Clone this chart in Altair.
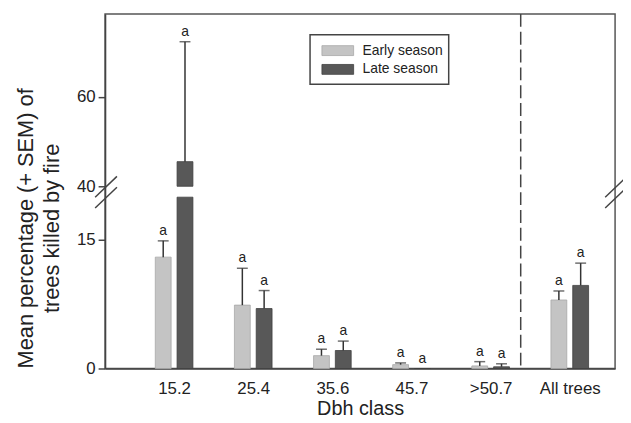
import json
import altair as alt
import pandas as pd

# ---- data ----
categories = ["15.2", "25.4", "35.6", "45.7", ">50.7", "All trees"]
early_mean = [13.0, 7.4, 1.5, 0.45, 0.3, 8.0]
early_sem = [1.9, 4.3, 0.75, 0.2, 0.5, 1.05]
late_mean = [45.5, 7.0, 2.1, 0.0, 0.2, 9.7]
late_sem = [26.8, 2.1, 1.1, 0.0, 0.35, 2.6]
sig_early = ["a", "a", "a", "a", "a", "a"]
sig_late = ["a", "a", "a", "a", "a", "a"]
seasons = ["Early season", "Late season"]

BREAK_LO, BREAK_HI, YMAX = 20, 40, 78.5
FONT = "Liberation Sans, Arial, Helvetica, sans-serif"
EARLY_FILL, LATE_FILL = "#c4c4c4", "#585858"
EARLY_STROKE, LATE_STROKE = "#a8a8a8", "#404040"
W, H = 515, 358


def segments(means, season):
    rows = []
    for i, m in enumerate(means):
        if m > BREAK_LO:
            rows.append(dict(idx=i, lo=0, hi=BREAK_LO, season=season))
            rows.append(dict(idx=i, lo=BREAK_HI, hi=m, season=season))
        else:
            rows.append(dict(idx=i, lo=0, hi=m, season=season))
    return pd.DataFrame(rows)


def summary(means, sems, sig):
    return pd.DataFrame(dict(idx=list(range(len(means))), mean=means, sem=sems,
                             top=[m + s for m, s in zip(means, sems)], sig=sig))


xscale = alt.Scale(domain=[-0.81, 5.51], nice=False, zero=False)
yscale = alt.Scale(domain=[0, BREAK_LO, BREAK_HI, YMAX], range=[H, 185, 174, 0],
                   nice=False, zero=False)
colscale = alt.Scale(domain=seasons, range=[EARLY_FILL, LATE_FILL])

x_enc = alt.X("idx:Q", scale=xscale, axis=alt.Axis(
    values=list(range(len(categories))),
    labelExpr=json.dumps(categories) + "[datum.value]",
    title="Dbh class", ticks=False, labelPadding=12, titlePadding=2,
    labelFontSize=17, titleFontSize=20, grid=False))
y_enc = alt.Y("lo:Q", scale=yscale, axis=alt.Axis(
    values=[0, 15, 40, 60], title=["Mean percentage (+ SEM) of", "trees killed by fire"],
    tickSize=7, labelPadding=3, labelFontSize=17, titleFontSize=22,
    titleLineHeight=26, titleX=-68, titleY=216, grid=False))

layers = []
for season, means, sems, sig, off, stroke in [
        (seasons[0], early_mean, early_sem, sig_early, -11, EARLY_STROKE),
        (seasons[1], late_mean, late_sem, sig_late, 11, LATE_STROKE)]:
    seg = segments(means, season)
    summ = summary(means, sems, sig)
    bars = alt.Chart(seg).mark_bar(width=16, xOffset=off, stroke=stroke, strokeWidth=0.8).encode(
        x=x_enc, y=y_enc, y2="hi:Q",
        color=alt.Color("season:N", scale=colscale, legend=None))
    errd = summ[summ["sem"] > 0]
    err = alt.Chart(errd).mark_rule(xOffset=off, color="#333", strokeWidth=1.5).encode(
        x="idx:Q", y=alt.Y("mean:Q"), y2="top:Q")
    cap = alt.Chart(errd).mark_tick(orient="horizontal", xOffset=off, size=11,
                                    thickness=1.5, color="#333").encode(
        x="idx:Q", y="top:Q")
    txt = alt.Chart(summ).mark_text(xOffset=off, dy=-3, baseline="bottom", fontSize=14,
                                    font=FONT, color="#222").encode(
        x="idx:Q", y="top:Q", text="sig:N")
    layers += [bars, err, cap, txt]

one = pd.DataFrame({"k": [0]})
divider = alt.Chart(one).mark_rule(color="#444", strokeWidth=1.5, strokeDash=[13, 5]).encode(
    x=alt.datum(4.38))
layers.append(divider)

# axis-break slashes (decoration)
for (x1, x2, y1, y2) in [(-10, 12, 185, 164), (-10, 12, 196, 175),
                          (505, 527, 185, 164), (505, 527, 196, 175)]:
    layers.append(alt.Chart(one).mark_rule(color="#444", strokeWidth=1.5).encode(
        x=alt.value(x1), x2=alt.value(x2), y=alt.value(y1), y2=alt.value(y2)))

# legend box (decoration)
layers.append(alt.Chart(one).mark_rect(fill="white", stroke="#444", strokeWidth=1.5).encode(
    x=alt.value(207), x2=alt.value(347), y=alt.value(21), y2=alt.value(71)))
for i, (name, fill, stroke) in enumerate([(seasons[0], EARLY_FILL, EARLY_STROKE),
                                          (seasons[1], LATE_FILL, LATE_STROKE)]):
    y0 = 32 + 19 * i
    layers.append(alt.Chart(one).mark_rect(fill=fill, stroke=stroke, strokeWidth=0.8).encode(
        x=alt.value(219), x2=alt.value(251), y=alt.value(y0), y2=alt.value(y0 + 10)))
    layers.append(alt.Chart(one).mark_text(text=name, align="left", baseline="middle",
                                           fontSize=14, font=FONT, color="#222").encode(
        x=alt.value(260), y=alt.value(y0 + 5)))

chart = alt.layer(*layers).properties(
    width=W, height=H,
    autosize=alt.AutoSizeParams(type="none"),
    padding={"left": 98, "top": 4, "right": 8, "bottom": 52},
).configure_view(stroke="#555", strokeWidth=1.5).configure_axis(
    domainColor="#444", domainWidth=1.5, tickColor="#444", tickWidth=1.5,
    labelColor="#222", titleColor="#222", labelFont=FONT, titleFont=FONT,
    titleFontWeight="normal")

chart.save("out.html", embed_options={"renderer": "svg", "actions": False})
